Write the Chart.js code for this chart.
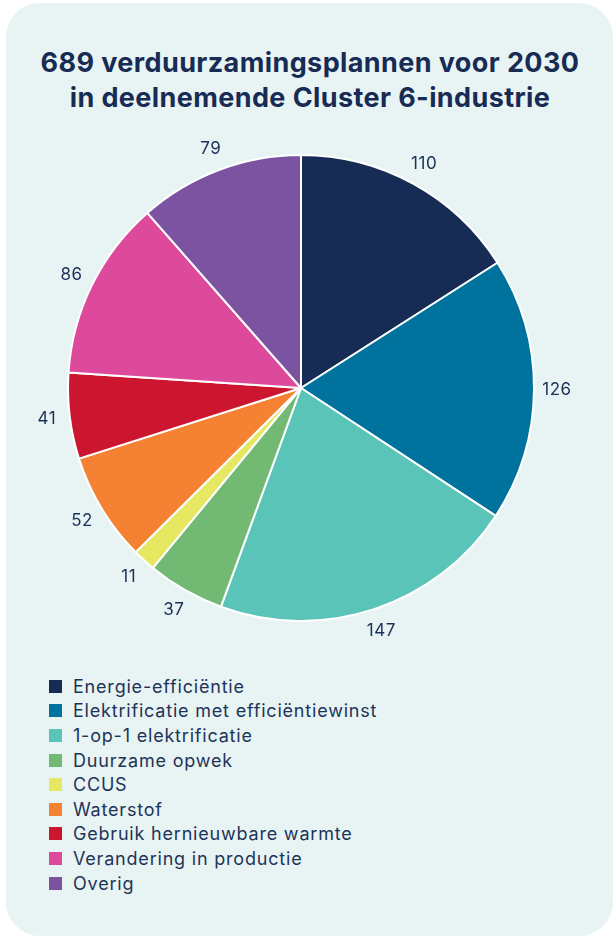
<!DOCTYPE html>
<html>
<head>
<meta charset="utf-8">
<script src="https://cdn.jsdelivr.net/npm/chart.js@4/dist/chart.umd.min.js"></script>
<style>
  html, body { margin: 0; padding: 0; background: #ffffff; }
  body { width: 614px; height: 938px; position: relative; overflow: hidden; font-family: Inter, sans-serif; }
  .card { position: absolute; left: 6px; top: 3px; width: 607px; height: 933px; border-radius: 34px; background: #e7f4f3; }
  #title { position: absolute; left: 0; top: 45px; width: 620px; margin: 0; text-align: center;
           font-size: 27px; font-weight: 700; line-height: 35px; letter-spacing: 0.4px; color: #172b54; }
  .chart-box { position: absolute; left: 0; top: 0; width: 614px; height: 660px; }
  #legend { position: absolute; left: 49px; top: 674px; margin: 0; padding: 0; list-style: none; }
  #legend li { height: 24.6px; display: flex; align-items: center; font-size: 18px; letter-spacing: 0.8px; color: #1e3358; }
  #legend span.box { width: 13px; height: 13px; margin-right: 11px; display: inline-block; }
</style>
</head>
<body>
<div class="card"></div>
<h1 id="title"></h1>
<div class="chart-box"><canvas id="pieChart" width="614" height="660"></canvas></div>
<ul id="legend"></ul>
<script>
// Data
const categories = [
    'Energie-efficiëntie',
    'Elektrificatie met efficiëntiewinst',
    '1-op-1 elektrificatie',
    'Duurzame opwek',
    'CCUS',
    'Waterstof',
    'Gebruik hernieuwbare warmte',
    'Verandering in productie',
    'Overig'
];
const plans = [110, 126, 147, 37, 11, 52, 41, 86, 79];
const colors = ['#172c55', '#00729e', '#5bc4b8', '#72ba74', '#e6e862', '#f58233', '#cc162f', '#de4a9b', '#7b53a1'];
const titleLines = ['689 verduurzamingsplannen voor 2030', 'in deelnemende Cluster 6-industrie'];

const navy = '#1b2f57';

document.getElementById('title').innerHTML = titleLines.join('<br>');

// value labels outside the slices
const outsideLabels = {
    id: 'outsideLabels',
    afterDatasetsDraw(chart) {
        const ctx = chart.ctx;
        const meta = chart.getDatasetMeta(0);
        ctx.save();
        ctx.font = '17px Inter, sans-serif';
        ctx.letterSpacing = '0.5px';
        ctx.fillStyle = navy;
        ctx.textAlign = 'center';
        ctx.textBaseline = 'middle';
        meta.data.forEach((arc, i) => {
            const a = (arc.startAngle + arc.endAngle) / 2;
            const r = arc.outerRadius + 23;
            ctx.fillText(String(plans[i]), arc.x + Math.cos(a) * r, arc.y + Math.sin(a) * r);
        });
        ctx.restore();
    }
};

const ctx = document.getElementById('pieChart').getContext('2d');
new Chart(ctx, {
    type: 'pie',
    data: {
        labels: categories,
        datasets: [{
            data: plans,
            backgroundColor: colors,
            borderColor: '#ffffff',
            borderWidth: 2
        }]
    },
    options: {
        responsive: false,
        animation: false,
        layout: { padding: { left: 67, right: 79, top: 154, bottom: 38 } },
        plugins: {
            legend: { display: false },
            tooltip: { enabled: false },
            title: { display: false }
        }
    },
    plugins: [outsideLabels]
});

// legend list
const legendEl = document.getElementById('legend');
categories.forEach((name, i) => {
    const li = document.createElement('li');
    const box = document.createElement('span');
    box.className = 'box';
    box.style.background = colors[i];
    li.appendChild(box);
    li.appendChild(document.createTextNode(name));
    legendEl.appendChild(li);
});
</script>
</body>
</html>
